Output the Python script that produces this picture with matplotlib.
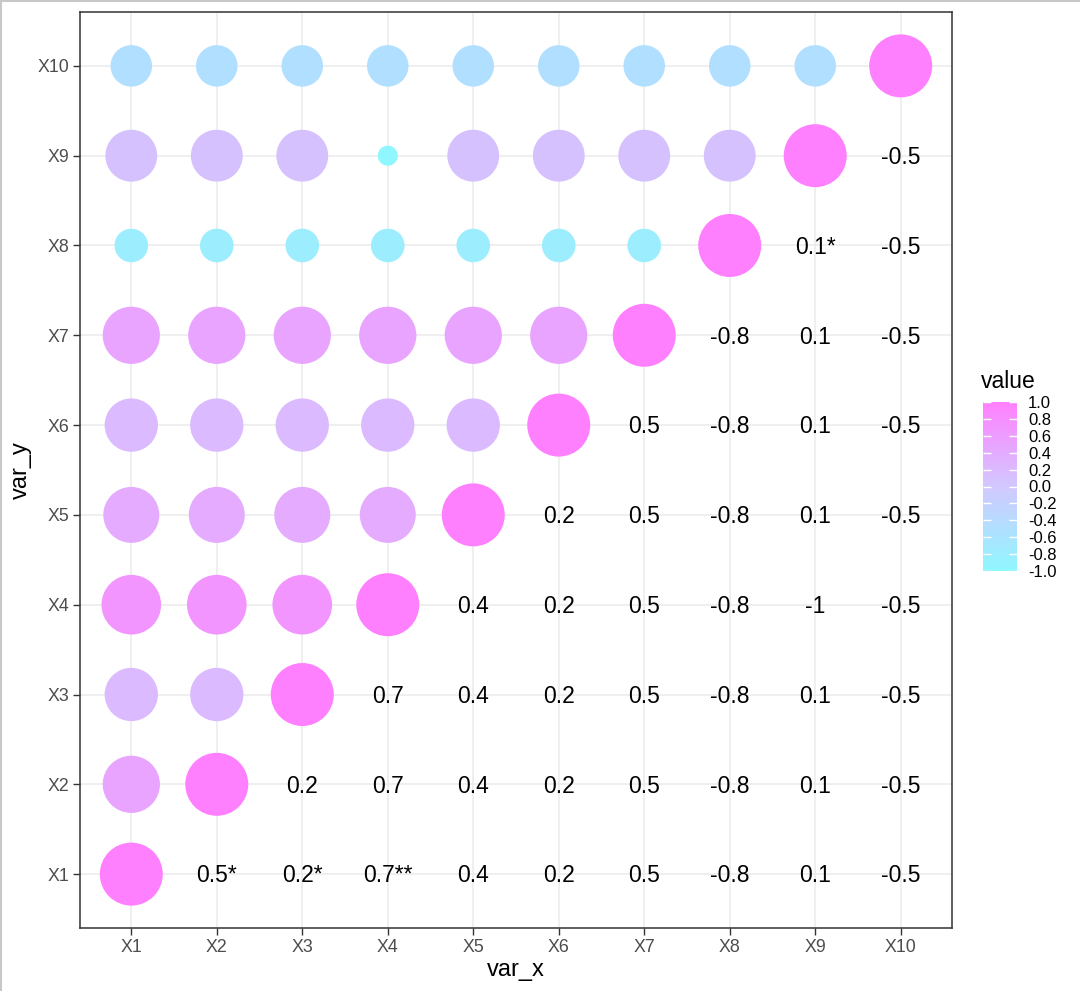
import matplotlib
matplotlib.use("Agg")
import matplotlib.pyplot as plt
import numpy as np
from matplotlib.colors import LinearSegmentedColormap, Normalize
from matplotlib.cm import ScalarMappable


variables = ["X1", "X2", "X3", "X4", "X5", "X6", "X7", "X8", "X9", "X10"]

# correlation matrix, row = var_y, column = var_x
corr = [
    [1.0, 0.5, 0.2, 0.7, 0.4, 0.2, 0.5, -0.8, 0.1, -0.5],
    [0.5, 1.0, 0.2, 0.7, 0.4, 0.2, 0.5, -0.8, 0.1, -0.5],
    [0.2, 0.2, 1.0, 0.7, 0.4, 0.2, 0.5, -0.8, 0.1, -0.5],
    [0.7, 0.7, 0.7, 1.0, 0.4, 0.2, 0.5, -0.8, -1.0, -0.5],
    [0.4, 0.4, 0.4, 0.4, 1.0, 0.2, 0.5, -0.8, 0.1, -0.5],
    [0.2, 0.2, 0.2, 0.2, 0.2, 1.0, 0.5, -0.8, 0.1, -0.5],
    [0.5, 0.5, 0.5, 0.5, 0.5, 0.5, 1.0, -0.8, 0.1, -0.5],
    [-0.8, -0.8, -0.8, -0.8, -0.8, -0.8, -0.8, 1.0, 0.1, -0.5],
    [0.1, 0.1, 0.1, -1.0, 0.1, 0.1, 0.1, 0.1, 1.0, -0.5],
    [-0.5, -0.5, -0.5, -0.5, -0.5, -0.5, -0.5, -0.5, -0.5, 1.0],
]

# significance stars shown in the upper triangle: (var_y, var_x) -> stars
stars = {("X1", "X2"): "*", ("X1", "X3"): "*", ("X1", "X4"): "**", ("X8", "X9"): "*"}

legend_ticks = [1.0, 0.8, 0.6, 0.4, 0.2, 0.0, -0.2, -0.4, -0.6, -0.8, -1.0]

plt.rcParams["font.family"] = ["Liberation Sans", "DejaVu Sans"]

cmap = LinearSegmentedColormap.from_list("corr", ["#8ff7ff", "#d2c8ff", "#ff80ff"])
norm = Normalize(-1, 1)

fig = plt.figure(figsize=(10.8, 9.91), dpi=100)
ax = fig.add_axes([80 / 1080, 63 / 991, 872 / 1080, 916 / 991])

corr = np.array(corr)
n = len(variables)
cx, cy, cv, tx, ty, tl = [], [], [], [], [], []
for i in range(n):
    for j in range(n):
        v = corr[i, j]
        if j <= i:
            cx.append(j + 1)
            cy.append(i + 1)
            cv.append(v)
        else:
            tx.append(j + 1)
            ty.append(i + 1)
            lab = f"{round(v, 1):g}" + stars.get((variables[i], variables[j]), "")
            tl.append(lab)

cv = np.array(cv)
# area scale like ggplot: diameter from 20px to 63px
diam_px = 20 + 43 * np.sqrt((cv + 1) / 2)
sizes = (diam_px * 0.72) ** 2

ax.scatter(cx, cy, s=sizes, c=cv, cmap=cmap, norm=norm, linewidths=0, zorder=3)
for x, y, lab in zip(tx, ty, tl):
    ax.text(x, y - 0.02, lab, ha="center", va="center", fontsize=16.5, color="black", zorder=3)

ax.set_xlim(0.4, n + 0.6)
ax.set_ylim(0.4, n + 0.6)
ax.set_xticks(range(1, n + 1))
ax.set_xticklabels(variables)
ax.set_yticks(range(1, n + 1))
ax.set_yticklabels(variables)
ax.grid(True, color="#ebebeb", linewidth=1.1, zorder=0)
ax.set_axisbelow(True)
ax.tick_params(length=5, width=1, color="#333333", labelcolor="#4d4d4d", labelsize=12.8, pad=3)
for sp in ax.spines.values():
    sp.set_color("#333333")
    sp.set_linewidth(1.1)
ax.set_xlabel("var_x", fontsize=17, labelpad=2)
ax.set_ylabel("var_y", fontsize=17, labelpad=4)

# colour legend
cax = fig.add_axes([983 / 1080, 420 / 991, 34 / 1080, 169 / 991])
cb = fig.colorbar(ScalarMappable(norm=norm, cmap=cmap), cax=cax, ticks=legend_ticks)
cb.outline.set_visible(False)
cb.ax.set_yticklabels([f"{t:.1f}" for t in legend_ticks])
cb.ax.tick_params(which="both", left=True, right=True, direction="in", color="white",
                  length=6, width=1, labelsize=12, labelcolor="black", pad=8)
cb.ax.minorticks_off()
fig.text(981 / 1080, 1 - 381 / 991, "value", fontsize=16.5, ha="left", va="center")

# outer light frame as in the reference picture
fig.add_artist(plt.Line2D([0, 1], [0.999, 0.999], transform=fig.transFigure, color="#c8c8c8", lw=1.5))
fig.add_artist(plt.Line2D([0.0008, 0.0008], [0, 1], transform=fig.transFigure, color="#c8c8c8", lw=1.5))

fig.savefig("out.png", dpi=100)
